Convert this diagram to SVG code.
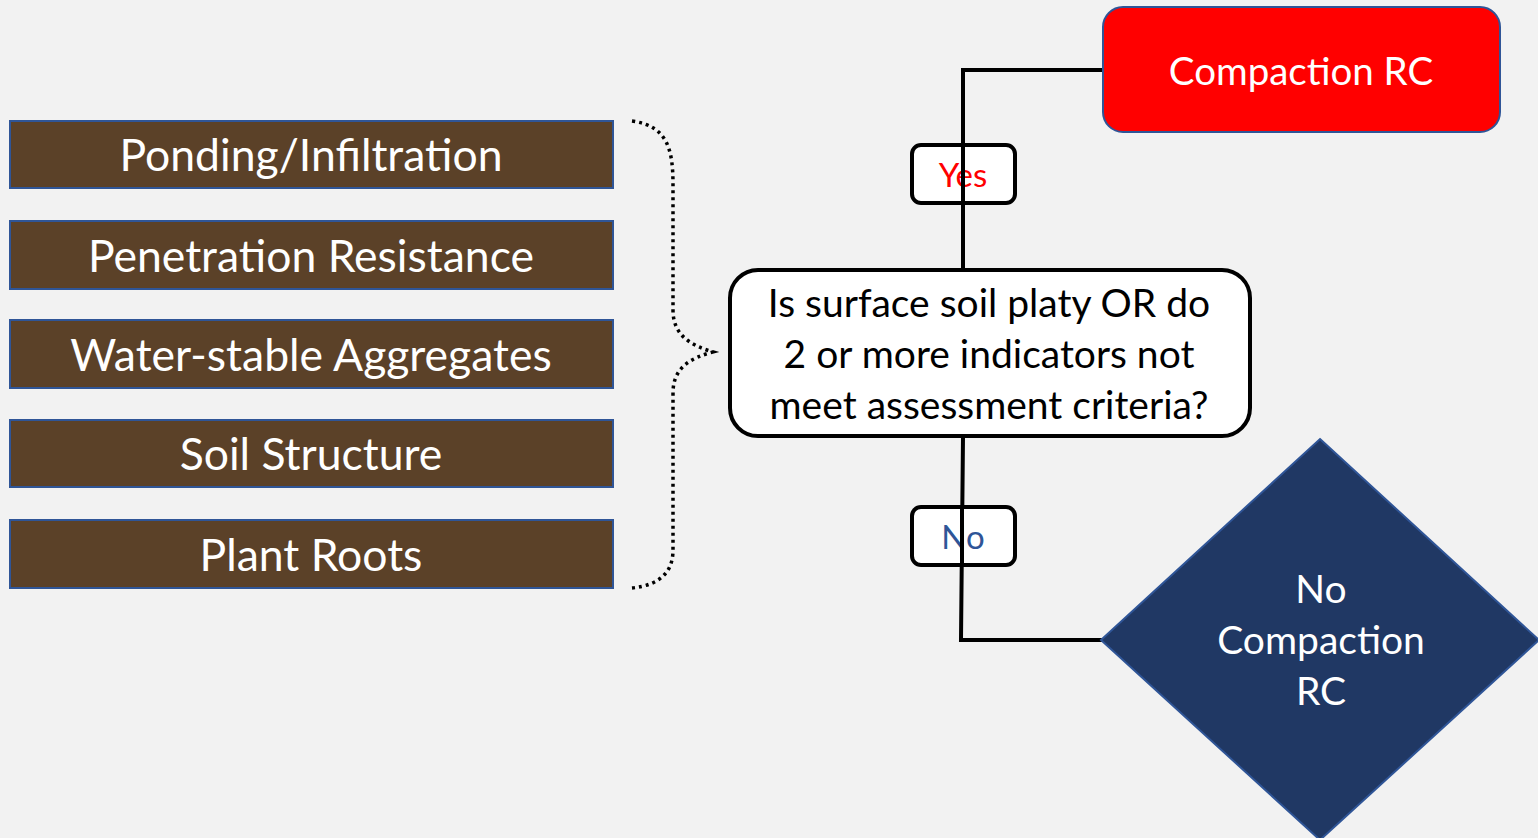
<svg xmlns="http://www.w3.org/2000/svg" width="1538" height="838" viewBox="0 0 1538 838">
<style>
text{font-family:Lato,"Open Sans","Liberation Sans",sans-serif;text-anchor:middle;dominant-baseline:central}
.ind rect{fill:#5B4128;stroke:#2F5597;stroke-width:2}
.ind text{fill:#fff;font-size:44.5px}
.conn{fill:none;stroke:#000;stroke-width:4}
.lbl rect{fill:#fff;stroke:#000;stroke-width:4}
</style>
<rect width="1538" height="838" fill="#F2F2F2"/>
<g id="ponding" class="ind"><rect x="10" y="121" width="603" height="67"/><text x="311" y="153">Ponding/Infiltration</text></g>
<g id="penetration" class="ind"><rect x="10" y="221" width="603" height="68"/><text x="311" y="254">Penetration Resistance</text></g>
<g id="aggregates" class="ind"><rect x="10" y="320" width="603" height="68"/><text x="311" y="353">Water-stable Aggregates</text></g>
<g id="structure" class="ind"><rect x="10" y="420" width="603" height="67"/><text x="311" y="452">Soil Structure</text></g>
<g id="roots" class="ind"><rect x="10" y="520" width="603" height="68"/><text x="311" y="553">Plant Roots</text></g>
<g id="brace"><path d="M632,121 C668,126 673,150 673,185 L673,310 C673,335 690,345 713,352 C690,358 673,368 673,393 L673,550 C673,572 660,585 632,588" fill="none" stroke="#000" stroke-width="3.5" stroke-dasharray="3,4"/></g>
<g id="connectors">
<path class="conn" d="M963,269 L963,70 L1103,70"/>
<path class="conn" d="M963,437 L961,640 L1102,640"/>
</g>
<g id="question"><rect x="730" y="270" width="520" height="166" rx="28" fill="#fff" stroke="#000" stroke-width="4"/>
<text x="989" y="302" font-size="39">Is surface soil platy OR do</text>
<text x="989" y="353" font-size="39">2 or more indicators not</text>
<text x="989" y="404" font-size="39">meet assessment criteria?</text></g>
<g id="compaction"><rect x="1103" y="7" width="397" height="125" rx="20" fill="#FF0000" stroke="#2F5597" stroke-width="2"/><text x="1301" y="70" font-size="38.5" fill="#fff">Compaction RC</text></g>
<g id="nocompaction"><polygon points="1320,439 1539,640 1320,840 1101,640" fill="#203864" stroke="#2F5597" stroke-width="2"/>
<text x="1321" y="588" font-size="39" fill="#fff">No</text><text x="1321" y="639" font-size="39" fill="#fff">Compaction</text><text x="1321" y="690" font-size="39" fill="#fff">RC</text></g>
<g id="yes" class="lbl"><rect x="912" y="145" width="103" height="58" rx="9"/><text x="963" y="174" font-size="33" fill="#FF0000">Yes</text></g>
<g id="no" class="lbl"><rect x="912" y="507" width="103" height="58" rx="9"/><text x="963" y="536" font-size="33" fill="#2F5597">No</text></g>
<path d="M963,145 V203 M962,507 V565" stroke="#000" stroke-width="4"/>
</svg>
